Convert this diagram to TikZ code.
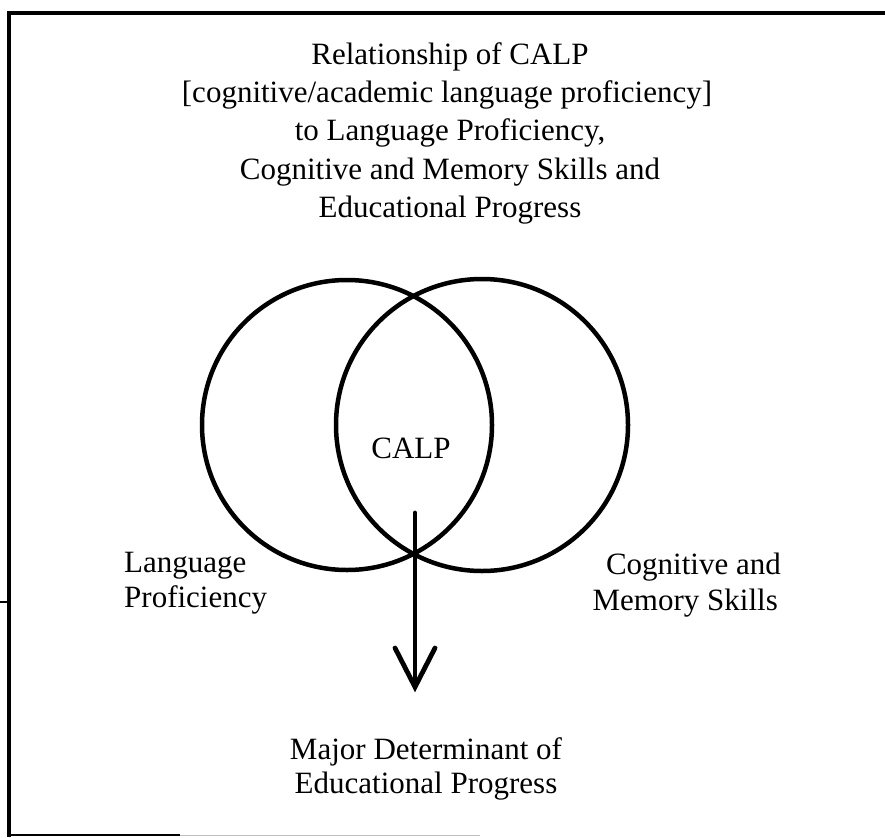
\documentclass[tikz,border=0pt]{standalone}
\usepackage{fontspec}
\setmainfont{Liberation Serif}
\begin{document}
\begin{tikzpicture}[x=1pt,y=-1pt,
  txt/.style={font=\fontsize{31}{38}\selectfont, inner sep=0pt},
  ring/.style={draw, circle, line width=4.5pt, inner sep=0pt},
  frameline/.style={line width=4.5pt}]
\useasboundingbox (0,0) rectangle (885,837);
% frame
\draw[frameline] (9,837) -- (9,13) -- (885,13);
\draw[line width=2.5pt] (7,835) -- (180,835);
\draw[line width=1pt, black!25] (180,835) -- (480,835);
\draw[line width=1.5pt] (0,602) -- (9,602);
% title
\node[txt, anchor=base] (t1) at (450,65)  {Relationship of CALP};
\node[txt, anchor=base] (t2) at (447,103) {[cognitive/academic language proficiency]};
\node[txt, anchor=base] (t3) at (450,141) {to Language Proficiency,};
\node[txt, anchor=base] (t4) at (450,179) {Cognitive and Memory Skills and};
\node[txt, anchor=base] (t5) at (450,217) {Educational Progress};
% circles
\node[ring, minimum size=290pt] (lc) at (347,425) {};
\node[ring, minimum size=292pt] (rc) at (482,425) {};
\node[txt, anchor=base] (calp) at (411,458) {CALP};
% labels
\node[txt, anchor=base west] (lang1) at (124,572) {Language};
\node[txt, anchor=base west] (lang2) at (124,607) {Proficiency};
\node[txt, anchor=base east] (cog1) at (781,574) {Cognitive and};
\node[txt, anchor=base east] (cog2) at (778,610) {Memory Skills};
% arrow
\coordinate (astart) at (415,513);
\coordinate (atip) at (415,687);
\draw[line width=4.8pt, line cap=round] (astart) -- (atip);
\draw[line width=4.8pt, line cap=round, line join=miter] (atip) ++(-20,-39) -- (atip) -- ++(20,-39);
% bottom text
\node[txt, anchor=base] (b1) at (426,759) {Major Determinant of};
\node[txt, anchor=base] (b2) at (426,793) {Educational Progress};
\end{tikzpicture}
\end{document}
